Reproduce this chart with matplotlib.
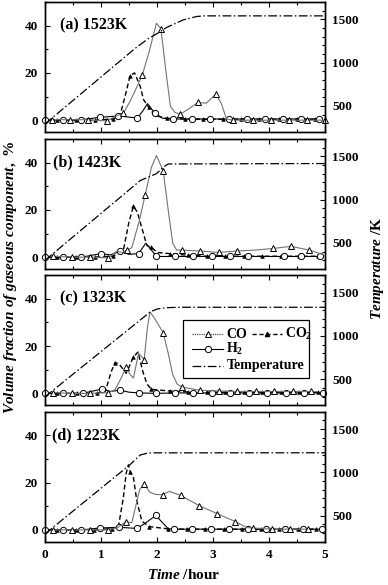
import matplotlib
matplotlib.use('Agg')
import matplotlib.pyplot as plt
from matplotlib.lines import Line2D
from matplotlib.patches import Rectangle
from matplotlib.ticker import MultipleLocator

plt.rcParams['font.family'] = ['Liberation Serif', 'DejaVu Serif']
plt.rcParams['font.weight'] = 'bold'
plt.rcParams['mathtext.fontset'] = 'custom'
plt.rcParams['mathtext.rm'] = 'Liberation Serif:bold'
plt.rcParams['mathtext.bf'] = 'Liberation Serif:bold'
plt.rcParams['mathtext.it'] = 'Liberation Serif:italic:bold'

# ---------------- data ----------------
panel_labels = ['(a) 1523K', '(b) 1423K', '(c) 1323K', '(d) 1223K']

# panel (a) 1523K
a_co_t = [0.12, 0.45, 0.77, 1.10, 1.25, 1.40, 1.52, 1.62, 1.74, 1.86, 1.99, 2.07, 2.17, 2.24, 2.32, 2.41, 2.55, 2.73, 2.88, 3.05, 3.15, 3.24, 3.36, 3.71, 4.03, 4.36, 4.68, 5.00]
a_co_v = [0.2, 0.2, 0.2, -0.3, 1.5, 3.0, 8.0, 13.0, 19.3, 29.0, 41.0, 38.7, 18.6, 5.8, 3.3, 2.5, 4.5, 7.5, 7.2, 11.0, 7.0, 0.5, 0.0, 0.0, 0.0, 0.0, 0.0, 0.0]
a_co_m = [1, 1, 1, 1, 0, 1, 0, 0, 1, 0, 0, 1, 0, 0, 0, 1, 0, 1, 0, 1, 0, 0, 1, 1, 1, 1, 1, 1]
a_co2_t = [0.22, 0.55, 0.89, 1.22, 1.34, 1.45, 1.52, 1.60, 1.70, 1.76, 1.85, 1.96, 2.17, 2.50, 2.83, 3.17, 3.50, 3.83, 4.17, 4.50, 4.83]
a_co2_v = [0.0, 0.0, 0.0, 0.5, 2.0, 12.0, 18.9, 20.0, 14.3, 8.7, 5.5, 2.0, 0.8, 0.5, 0.4, 0.4, 0.4, 0.4, 0.4, 0.4, 0.4]
a_co2_m = [1, 1, 1, 1, 0, 0, 1, 0, 0, 0, 1, 0, 1, 1, 1, 1, 1, 1, 1, 1, 1]
a_h2_t = [0.0, 0.33, 0.65, 0.98, 1.31, 1.65, 1.75, 1.83, 1.96, 2.10, 2.29, 2.62, 2.95, 3.28, 3.60, 3.93, 4.25, 4.58, 4.90]
a_h2_v = [0.0, 0.0, 0.2, 1.2, 1.8, 0.9, 4.0, 7.0, 3.0, 0.8, 0.5, 0.5, 0.5, 0.5, 0.5, 0.5, 0.5, 0.5, 0.5]
a_h2_m = [1, 1, 1, 1, 1, 1, 0, 0, 1, 0, 1, 1, 1, 1, 1, 1, 1, 1, 1]
a_temp_t = [0.0, 1.60, 1.85, 2.00, 2.17, 2.47, 2.71, 2.85, 5.00]
a_temp_v = [293, 1160, 1280, 1335, 1406, 1494, 1533, 1540, 1540]

# panel (b) 1423K
b_co_t = [0.15, 0.48, 0.80, 1.13, 1.28, 1.38, 1.47, 1.55, 1.68, 1.79, 1.90, 1.99, 2.11, 2.20, 2.28, 2.35, 2.44, 2.77, 3.10, 3.42, 3.75, 4.08, 4.39, 4.72, 4.95]
b_co_v = [0.4, 0.0, 0.0, -0.3, 2.5, 2.0, 3.1, 4.0, 15.0, 26.5, 38.0, 43.0, 36.6, 20.0, 6.0, 3.0, 3.0, 2.6, 2.0, 2.6, 3.0, 3.7, 4.6, 3.0, 1.2]
b_co_m = [1, 1, 1, 1, 0, 0, 1, 0, 0, 1, 0, 0, 1, 0, 0, 0, 1, 1, 1, 1, 0, 1, 1, 1, 0]
b_co2_t = [0.22, 0.55, 0.89, 1.22, 1.40, 1.50, 1.58, 1.65, 1.70, 1.82, 1.90, 2.00, 2.23, 2.56, 2.89, 3.22, 3.55, 3.88, 4.21, 4.54, 4.87]
b_co2_v = [0.0, 0.0, 0.0, 0.5, 3.0, 15.0, 21.6, 19.0, 14.8, 4.9, 4.2, 2.0, 1.5, 0.8, 0.4, 0.4, 0.4, 0.4, 0.4, 0.4, 0.4]
b_co2_m = [1, 1, 1, 1, 0, 0, 1, 0, 0, 0, 1, 0, 1, 1, 1, 1, 1, 1, 1, 1, 1]
b_h2_t = [0.0, 0.33, 0.65, 1.00, 1.17, 1.34, 1.50, 1.67, 1.80, 1.90, 1.99, 2.32, 2.65, 2.98, 3.30, 3.63, 4.26, 4.58, 4.91]
b_h2_v = [0.0, 0.0, 0.0, 1.5, 1.0, 2.5, 1.2, 1.5, 5.9, 3.0, 0.3, 0.3, 0.3, 0.3, 0.3, 0.3, 0.3, 0.3, 0.3]
b_h2_m = [1, 1, 1, 1, 0, 1, 0, 1, 0, 0, 1, 1, 1, 1, 1, 1, 1, 1, 1]
b_temp_t = [0.0, 1.70, 1.99, 2.12, 2.20, 5.00]
b_temp_v = [300, 1220, 1300, 1380, 1412, 1417]

# panel (c) 1323K
c_co_t = [0.15, 0.48, 0.80, 1.13, 1.25, 1.35, 1.45, 1.52, 1.58, 1.67, 1.77, 1.83, 1.875, 1.95, 2.11, 2.20, 2.28, 2.36, 2.44, 2.77, 3.10, 3.43, 3.76, 4.09, 4.42, 4.75]
c_co_v = [0.3, 0.0, 0.0, 0.3, 1.5, 6.0, 11.0, 8.0, 6.5, 17.0, 14.3, 28.0, 34.5, 32.0, 25.7, 17.0, 8.0, 4.0, 2.7, 1.3, 1.0, 0.8, 0.8, 0.8, 0.8, 0.8]
c_co_m = [1, 1, 1, 1, 0, 0, 1, 0, 0, 0, 1, 0, 0, 0, 1, 0, 0, 0, 1, 1, 1, 1, 1, 1, 1, 1]
c_co2_t = [0.22, 0.58, 0.92, 1.08, 1.18, 1.25, 1.32, 1.45, 1.58, 1.66, 1.75, 1.82, 1.90, 2.23, 2.56, 2.89, 3.22, 3.55, 3.88, 4.21, 4.54, 4.87]
c_co2_v = [0.0, 0.0, 0.0, 1.0, 9.0, 13.0, 12.5, 8.5, 15.4, 17.5, 9.0, 4.0, 1.7, 1.0, 0.6, 0.5, 0.5, 0.5, 0.5, 0.5, 0.5, 0.5]
c_co2_m = [1, 1, 1, 0, 0, 1, 0, 0, 1, 0, 0, 0, 1, 1, 1, 1, 1, 1, 1, 1, 1, 1]
c_h2_t = [0.0, 0.33, 0.67, 1.01, 1.17, 1.34, 1.50, 1.68, 1.99, 2.32, 2.65, 2.98, 3.31, 3.64, 3.97, 4.30, 4.63, 4.96]
c_h2_v = [0.0, 0.0, 0.0, 1.8, 0.8, 1.4, 0.5, 0.2, 0.0, 0.2, 0.2, 0.2, 0.2, 0.2, 0.2, 0.2, 0.2, 0.2]
c_h2_m = [1, 1, 1, 1, 0, 1, 0, 1, 1, 1, 1, 1, 1, 1, 1, 1, 1, 1]
c_temp_t = [0.0, 1.875, 2.00, 2.17, 2.40, 5.00]
c_temp_v = [297, 1274, 1310, 1325, 1330, 1330]

# panel (d) 1223K
d_co_t = [0.15, 0.48, 0.80, 1.13, 1.30, 1.45, 1.55, 1.62, 1.69, 1.77, 1.87, 1.97, 2.10, 2.22, 2.42, 2.75, 3.08, 3.40, 3.60, 3.72, 4.05, 4.38, 4.70]
d_co_v = [0.0, 0.0, 0.0, 0.0, 1.0, 3.5, 3.0, 10.0, 17.0, 19.3, 16.0, 15.0, 14.9, 16.3, 14.6, 10.3, 6.8, 3.5, 1.0, 0.8, 0.3, 0.3, 0.3]
d_co_m = [1, 1, 1, 1, 0, 1, 0, 0, 0, 1, 0, 0, 1, 0, 1, 1, 1, 1, 0, 1, 1, 1, 1]
d_co2_t = [0.22, 0.55, 0.88, 1.20, 1.31, 1.40, 1.45, 1.49, 1.52, 1.58, 1.64, 1.73, 1.86, 2.20, 2.53, 2.86, 3.19, 3.52, 3.85, 4.18, 4.51, 4.84]
d_co2_v = [0.0, 0.0, 0.0, 0.5, 1.2, 13.8, 24.0, 27.5, 24.7, 22.0, 12.2, 3.7, 1.4, 0.4, 0.3, 0.3, 0.3, 0.3, 0.3, 0.3, 0.3, 0.3]
d_co2_m = [1, 1, 1, 1, 0, 0, 0, 0, 1, 0, 0, 0, 1, 1, 1, 1, 1, 1, 1, 1, 1, 1]
d_h2_t = [0.0, 0.33, 0.65, 0.98, 1.32, 1.65, 1.80, 1.98, 2.10, 2.20, 2.30, 2.63, 2.96, 3.29, 3.62, 3.95, 4.28, 4.61, 4.94]
d_h2_v = [0.0, 0.0, 0.0, 0.8, 1.1, 0.6, 3.0, 6.1, 3.0, 0.5, 0.3, 0.3, 0.3, 0.3, 0.3, 0.3, 0.3, 0.3, 0.3]
d_h2_m = [1, 1, 1, 1, 1, 1, 0, 1, 0, 0, 1, 1, 1, 1, 1, 1, 1, 1, 1]
d_temp_t = [0.0, 1.52, 1.70, 1.85, 5.00]
d_temp_v = [290, 1090, 1200, 1225, 1226]

panels = [
    (a_co_t, a_co_v, a_co_m, a_co2_t, a_co2_v, a_co2_m, a_h2_t, a_h2_v, a_h2_m, a_temp_t, a_temp_v),
    (b_co_t, b_co_v, b_co_m, b_co2_t, b_co2_v, b_co2_m, b_h2_t, b_h2_v, b_h2_m, b_temp_t, b_temp_v),
    (c_co_t, c_co_v, c_co_m, c_co2_t, c_co2_v, c_co2_m, c_h2_t, c_h2_v, c_h2_m, c_temp_t, c_temp_v),
    (d_co_t, d_co_v, d_co_m, d_co2_t, d_co2_v, d_co2_m, d_h2_t, d_h2_v, d_h2_m, d_temp_t, d_temp_v),
]

# ---------------- styles ----------------
W, H = 388, 585
fig = plt.figure(figsize=(W / 100, H / 100), dpi=100)
left_px, right_px = 45, 325
bottoms_px = [132, 269, 405.2, 541.7]
height_px = 130
label_x = [0.054, 0.030, 0.054, 0.025]

co_style = dict(color='0.45', lw=0.8, ls='-', marker='^', ms=5, mfc='white', mec='black', mew=0.7)
co2_style = dict(color='black', lw=1.0, ls=(0, (3.5, 2)), marker='^', ms=2.6, mfc='black', mec='black', mew=0.5)
h2_style = dict(color='black', lw=0.8, ls='-', marker='o', ms=4.5, mfc='white', mec='black', mew=0.7)
t_style = dict(color='black', lw=0.9, ls=(0, (7, 2, 1.2, 2)))

axes = []
for i, p in enumerate(panels):
    (co_t, co_v, co_m, co2_t, co2_v, co2_m, h2_t, h2_v, h2_m, tt, tv) = p
    rect = [left_px / W, 1 - bottoms_px[i] / H, (right_px - left_px) / W, height_px / H]
    ax = fig.add_axes(rect)
    ax.set_xlim(0, 5)
    ax.set_ylim(-5, 50)
    ax.plot(co2_t, co2_v, markevery=[k for k, m in enumerate(co2_m) if m], clip_on=False, zorder=3, **co2_style)
    ax.plot(h2_t, h2_v, markevery=[k for k, m in enumerate(h2_m) if m], clip_on=False, zorder=4, **h2_style)
    ax.plot(co_t, co_v, markevery=[k for k, m in enumerate(co_m) if m], clip_on=False, zorder=5, **co_style)

    ax.xaxis.set_major_locator(MultipleLocator(1))
    ax.xaxis.set_minor_locator(MultipleLocator(0.5))
    ax.yaxis.set_major_locator(MultipleLocator(20))
    ax.yaxis.set_minor_locator(MultipleLocator(10))
    ax.tick_params(which='both', direction='in', top=True, right=False, width=0.8, labelsize=9.5, pad=5)
    ax.tick_params(which='major', length=3.5)
    ax.tick_params(which='minor', length=2)
    if i < 3:
        ax.tick_params(labelbottom=False)
    for s in ax.spines.values():
        s.set_linewidth(1.0)

    ax2 = ax.twinx()
    ax2.set_ylim(200, 1700)
    ax2.plot(tt, tv, zorder=2, **t_style)
    ax2.yaxis.set_major_locator(MultipleLocator(500))
    ax2.yaxis.set_minor_locator(MultipleLocator(100))
    ax2.tick_params(which='both', direction='in', width=0.8, labelsize=9.5, pad=5)
    ax2.tick_params(which='major', length=3.5)
    ax2.tick_params(which='minor', length=2)
    for s in ax2.spines.values():
        s.set_linewidth(1.0)

    ax.text(label_x[i], 0.82, panel_labels[i], transform=ax.transAxes, fontsize=11.5,
            fontweight='bold', ha='left', va='center', zorder=10)
    axes.append(ax)

# ---------------- legend (panel c) ----------------
axc = axes[2]
tr = axc.transAxes
axc.add_patch(Rectangle((0.493, 0.208), 0.450, 0.444, transform=tr, fill=True,
                        facecolor='white', edgecolor='black', lw=0.9, zorder=20, clip_on=False))
legend_rows = [
    (0.545, dict(color='0.3', lw=0.9, ls=(0, (1, 0.8)), marker='^', ms=5, mfc='white', mec='black', mew=0.7), 'CO'),
    (0.435, h2_style, 'H$_2$'),
    (0.305, t_style, 'Temperature'),
]
for y, st, txt in legend_rows:
    ln = Line2D([0.525, 0.636], [y, y], transform=tr, markevery=[], zorder=21, clip_on=False, **st)
    axc.add_line(ln)
    if 'marker' in st:
        axc.add_line(Line2D([0.582], [y], transform=tr, ls='none', marker=st['marker'], ms=st['ms'],
                            mfc=st['mfc'], mec=st['mec'], mew=st['mew'], zorder=22, clip_on=False))
    axc.text(0.648, y, txt, transform=tr, fontsize=10, fontweight='bold', ha='left', va='center', zorder=22)
axc.add_line(Line2D([0.739, 0.846], [0.545, 0.545], transform=tr, color='black', lw=1.0,
                    ls=(0, (3, 2)), zorder=21, clip_on=False))
axc.add_line(Line2D([0.793], [0.545], transform=tr, ls='none', marker='^', ms=3, mfc='black',
                    mec='black', zorder=22, clip_on=False))
axc.text(0.857, 0.545, 'CO$_2$', transform=tr, fontsize=10, fontweight='bold', ha='left', va='center', zorder=22)

# ---------------- axis labels ----------------
fig.text(11 / W, 1 - 278 / H, r'$\mathit{Volume\ fraction\ of\ gaseous\ component,}$ %',
         rotation=90, ha='center', va='center', fontsize=11, fontweight='bold')
fig.text(377 / W, 1 - 268 / H, r'$\mathit{Temperature}$ /K',
         rotation=90, ha='center', va='center', fontsize=11, fontweight='bold')
fig.text(184 / W, 1 - 575 / H, r'$\mathit{Time}$ /hour',
         ha='center', va='center', fontsize=11, fontweight='bold')

fig.savefig('out.png', dpi=100)
